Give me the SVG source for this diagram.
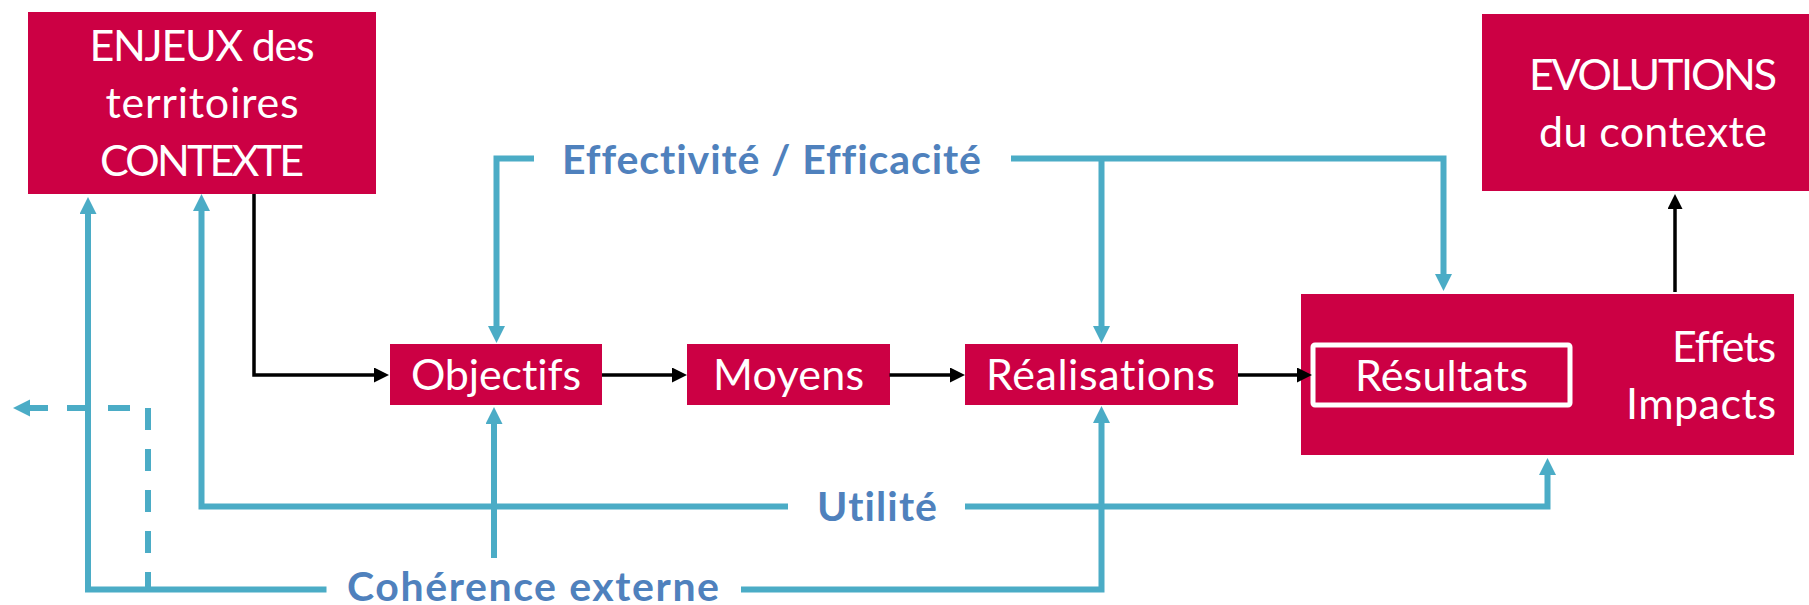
<svg xmlns="http://www.w3.org/2000/svg" width="1809" height="605" viewBox="0 0 1809 605">
<style>
.box{fill:#CC0044}
.t{font-family:Lato,"Open Sans","Liberation Sans",sans-serif;font-size:43px;fill:#FFFFFF;font-variant-ligatures:none}
.c{text-anchor:middle}
.e{text-anchor:end}
.lbl{font-family:Lato,"Open Sans","Liberation Sans",sans-serif;font-size:41px;font-weight:bold;fill:#4F81BD;font-variant-ligatures:none}
.bl{fill:none;stroke:#4BACC6;stroke-width:6;stroke-linejoin:miter}
.dash{stroke-dasharray:22 19}
.bk{fill:none;stroke:#000000;stroke-width:3.5}
</style>
<defs>
<marker id="ab" markerUnits="userSpaceOnUse" markerWidth="18" markerHeight="18" refX="7" refY="8.5" orient="auto">
<path d="M0,0 L17,8.5 L0,17 z" fill="#4BACC6"/>
</marker>
<marker id="ak" markerUnits="userSpaceOnUse" markerWidth="16" markerHeight="16" refX="9" refY="7.5" orient="auto">
<path d="M0,0 L15,7.5 L0,15 z" fill="#000000"/>
</marker>
</defs>
<rect width="1809" height="605" fill="#FFFFFF"/>

<g id="enjeux">
<rect class="box" x="28" y="12" width="348" height="182"/>
<text class="t c" x="202" y="61" font-size="41" textLength="225">ENJEUX des</text>
<text class="t c" x="202" y="118" textLength="193">territoires</text>
<text class="t c" x="202" y="175.5" font-size="41" textLength="204">CONTEXTE</text>
</g>

<g id="evolutions">
<rect class="box" x="1482" y="14" width="342" height="177"/>
<text class="t c" x="1653" y="90" font-size="41" textLength="248">EVOLUTIONS</text>
<text class="t c" x="1653" y="146.5" textLength="228">du contexte</text>
</g>

<g id="objectifs">
<rect class="box" x="390" y="344" width="212" height="61"/>
<text class="t c" x="496" y="390" textLength="170">Objectifs</text>
</g>

<g id="moyens">
<rect class="box" x="687" y="344" width="203" height="61"/>
<text class="t c" x="788.5" y="390" textLength="151">Moyens</text>
</g>

<g id="realisations">
<rect class="box" x="965" y="344" width="273" height="61"/>
<text class="t c" x="1100.5" y="390" textLength="229">Réalisations</text>
</g>

<g id="effets">
<rect class="box" x="1301" y="294" width="493" height="161"/>
<text class="t e" x="1776" y="361.5" textLength="104">Effets</text>
<text class="t e" x="1776" y="419" textLength="150">Impacts</text>
</g>

<g id="resultats">
<rect x="1313" y="345" width="257" height="60" rx="2" fill="none" stroke="#FFFFFF" stroke-width="5"/>
<text class="t c" x="1441.5" y="391" textLength="173">Résultats</text>
</g>

<g id="connectors">
<path class="bk" d="M254,194 V375 H383" marker-end="url(#ak)"/>
<path class="bk" d="M602,375 H681" marker-end="url(#ak)"/>
<path class="bk" d="M889.5,375 H959" marker-end="url(#ak)"/>
<path class="bk" d="M1238,375 H1306" marker-end="url(#ak)"/>
<path class="bk" d="M1675,292 V200" marker-end="url(#ak)"/>

<path class="bl" d="M534,158.5 H496.5 V333" marker-end="url(#ab)"/>
<path class="bl" d="M1011,158.5 H1443.5 V281" marker-end="url(#ab)"/>
<path class="bl" d="M1101.5,158.5 V333" marker-end="url(#ab)"/>
<path class="bl" d="M788,506.5 H201.5 V204" marker-end="url(#ab)"/>
<path class="bl" d="M965,506.5 H1547.5 V468" marker-end="url(#ab)"/>
<path class="bl" d="M326.5,589.5 H88 V207" marker-end="url(#ab)"/>
<path class="bl" d="M741,589.5 H1101.5 V416" marker-end="url(#ab)"/>
<path class="bl" d="M494,558 V417" marker-end="url(#ab)"/>
<path class="bl dash" d="M148,408 V590"/>
<path class="bl dash" d="M148,408 H23" stroke-dashoffset="23" marker-end="url(#ab)"/>

<g id="labels">
<text class="lbl" x="562" y="174" textLength="419">Effectivité / Efficacité</text>
<text class="lbl" x="817" y="520.5" textLength="120">Utilité</text>
<text class="lbl" x="347" y="601" textLength="372">Cohérence externe</text>
</g>
</g>
</svg>
